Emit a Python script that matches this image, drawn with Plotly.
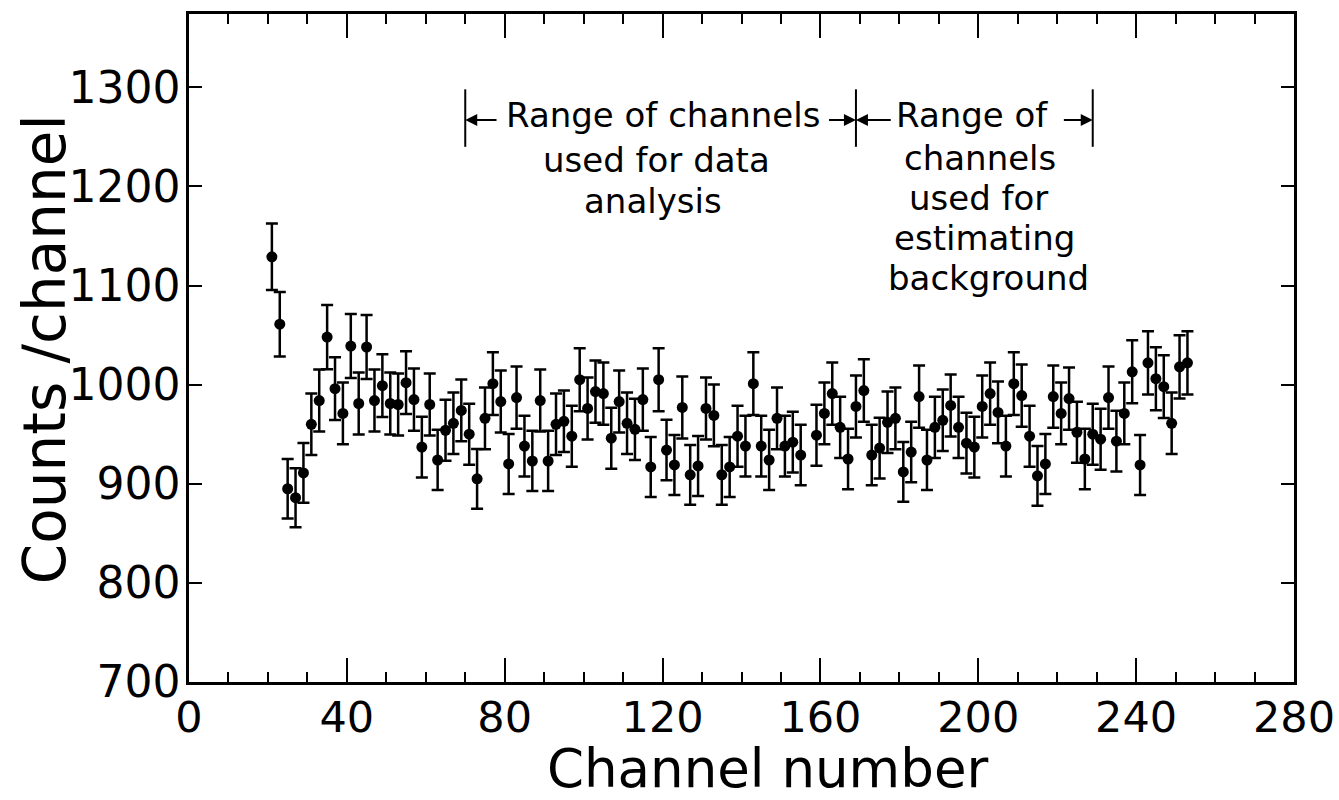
import plotly.graph_objects as go

# ---- data ----
channels = [21, 23, 25, 27, 29, 31, 33, 35, 37, 39, 41, 43, 45, 47, 49, 51, 53, 55, 57, 59,
            61, 63, 65, 67, 69, 71, 73, 75, 77, 79, 81, 83, 85, 87, 89, 91, 93, 95, 97, 99,
            101, 103, 105, 107, 109, 111, 113, 115, 117, 119, 121, 123, 125, 127, 129, 131,
            133, 135, 137, 139, 141, 143, 145, 147, 149, 151, 153, 155, 159, 161, 163, 165,
            167, 169, 171, 173, 175, 177, 179, 181, 183, 185, 187, 189, 191, 193, 195, 197,
            199, 201, 203, 205, 207, 209, 211, 213, 215, 217, 219, 221, 223, 225, 227, 229,
            231, 233, 235, 237, 239, 241, 243, 245, 247, 249, 251, 253]
counts = [1129, 1061, 895, 886, 911, 960, 984, 1048, 996, 971, 1039, 981, 1038, 984, 999, 981, 980, 1002, 985, 937,
          980, 924, 954, 961, 974, 950, 905, 966, 1001, 983, 920, 987, 938, 923, 984, 923, 960, 963, 948, 1005,
          976, 993, 991, 946, 983, 961, 955, 985, 917, 1005, 934, 919, 977, 909, 918, 976,
          969, 909, 917, 948, 938, 1001, 938, 924, 966, 938, 942, 929, 949, 971, 991, 957,
          925, 978, 994, 929, 936, 962, 966, 912, 932, 988, 924, 957, 964, 979, 957, 941,
          937, 978, 991, 972, 938, 1001, 989, 948, 908, 920, 988, 971, 986, 952, 925, 950,
          945, 987, 943, 971, 1013, 919, 1022, 1006, 998, 961, 1018, 1022]

x_ticks = [0, 40, 80, 120, 160, 200, 240, 280]
y_ticks = [700, 800, 900, 1000, 1100, 1200, 1300]

# range boundaries (channels)
bounds = [70, 169, 229]

left_lines = ["Range of channels", "used for data", "analysis"]
right_lines = ["Range of", "channels", "used for", "estimating", "background"]

FONT = "DejaVu Sans"
BLACK = "black"

fig = go.Figure()
fig.add_trace(go.Scatter(
    x=channels, y=counts, mode="markers",
    marker=dict(size=11, color=BLACK),
    error_y=dict(type="sqrt", visible=True, color=BLACK, thickness=2.5, width=6),
    showlegend=False,
))

shapes = []
for b in bounds:
    shapes.append(dict(type="line", xref="x", yref="y", x0=b, x1=b, y0=1240, y1=1298,
                       line=dict(color=BLACK, width=2)))

annotations = []
# arrows (head, tail)
arrow_y = 1267
for head, tail in [(70, 78.3), (169, 161.8), (169, 178.2), (229, 221.3)]:
    annotations.append(dict(x=head, y=arrow_y, ax=tail, ay=arrow_y, xref="x", yref="y",
                            axref="x", ayref="y", text="", showarrow=True,
                            arrowhead=2, arrowsize=1.2, arrowwidth=2, arrowcolor=BLACK,
                            standoff=0, startstandoff=0))

left_pos = [(120.0, 1272), (118.5, 1227), (117.5, 1185.5)]
for t, (xx, yy) in zip(left_lines, left_pos):
    annotations.append(dict(x=xx, y=yy, xref="x", yref="y", text=t, showarrow=False,
                            font=dict(family=FONT, size=34, color=BLACK),
                            xanchor="center", yanchor="middle"))
right_pos = [(198.5, 1272), (200.5, 1229), (200.0, 1188.5), (201.5, 1148), (202.5, 1108)]
for t, (xx, yy) in zip(right_lines, right_pos):
    annotations.append(dict(x=xx, y=yy, xref="x", yref="y", text=t, showarrow=False,
                            font=dict(family=FONT, size=34, color=BLACK),
                            xanchor="center", yanchor="middle"))

# axis titles
annotations.append(dict(x=146.7, y=-0.1766, xref="x", yref="paper", text="Channel number",
                        showarrow=False, font=dict(family=FONT, size=53, color=BLACK),
                        xanchor="center", yanchor="bottom", borderpad=0))
annotations.append(dict(x=-0.130, y=0.4985, xref="paper", yref="paper", text="Counts /channel",
                        showarrow=False, textangle=-90,
                        font=dict(family=FONT, size=58, color=BLACK),
                        xanchor="center", yanchor="middle"))

fig.update_layout(
    template="none",
    width=1339, height=800,
    margin=dict(l=189, r=45, t=14, b=118, autoexpand=False),
    paper_bgcolor="white", plot_bgcolor="white",
    font=dict(family=FONT, color=BLACK),
    shapes=shapes, annotations=annotations,
    xaxis=dict(range=[0, 280], tickmode="array", tickvals=x_ticks,
               ticktext=[str(v) for v in x_ticks], automargin=False,
               ticks="inside", ticklen=24, tickwidth=2, tickcolor=BLACK,
               minor=dict(dtick=10, tick0=0, ticks="inside", ticklen=10, tickwidth=2, tickcolor=BLACK),
               showline=True, linewidth=2.5, linecolor=BLACK, mirror="allticks",
               showgrid=False, zeroline=False,
               tickfont=dict(family=FONT, size=43, color=BLACK), ticklabelstandoff=-4),
    yaxis=dict(range=[700, 1374], tickmode="array", tickvals=y_ticks,
               ticktext=[str(v) for v in y_ticks], automargin=False,
               ticks="inside", ticklen=13, tickwidth=2, tickcolor=BLACK,
               showline=True, linewidth=2.5, linecolor=BLACK, mirror="allticks",
               showgrid=False, zeroline=False,
               tickfont=dict(family=FONT, size=44, color=BLACK), ticklabelstandoff=-3),
)

fig.write_html("out.html")
